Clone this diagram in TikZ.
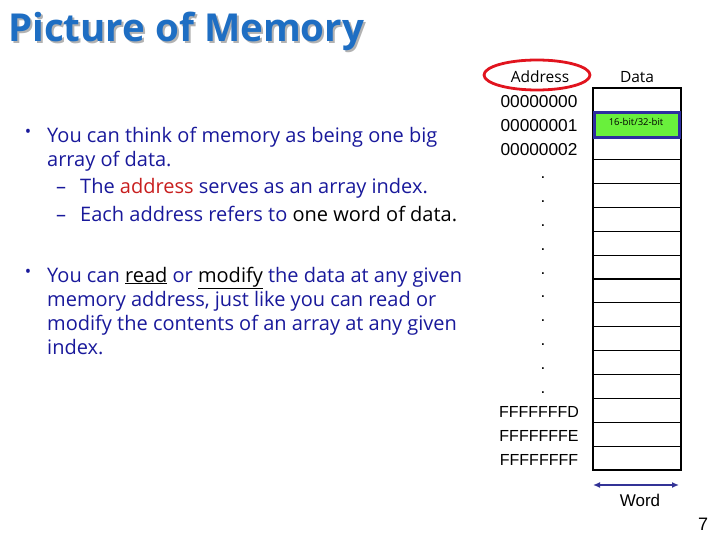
\documentclass[tikz,border=0pt]{standalone}
\usepackage{fontspec}
\setmainfont{Open Sans}
\newfontfamily\addrfont{Liberation Sans}
\usetikzlibrary{arrows.meta}
\definecolor{titleblue}{RGB}{30,110,195}
\definecolor{navy}{RGB}{25,25,155}
\definecolor{addrred}{RGB}{200,30,30}
\definecolor{ellred}{RGB}{225,20,30}
\definecolor{cellgreen}{RGB}{105,240,60}
\definecolor{cellblue}{RGB}{45,45,160}
\definecolor{arrowblue}{RGB}{50,50,150}
\begin{document}
\begin{tikzpicture}[x=1pt,y=-1pt,
  txt/.style={anchor=base west, inner sep=0pt, font=\fontsize{20}{24}\selectfont, text=navy},
  bulletmark/.style={anchor=center, inner sep=0pt, font=\fontsize{17}{19}\selectfont, text=navy},
  dashmark/.style={anchor=base west, inner sep=0pt, font=\fontsize{20}{24}\selectfont, text=navy},
  addr/.style={anchor=base, inner sep=0pt, font=\addrfont\fontsize{17.3}{20}\selectfont},
  addrF/.style={anchor=base, inner sep=0pt, font=\addrfont\fontsize{16}{19}\selectfont},
  dotmark/.style={anchor=base, inner sep=0pt, font=\addrfont\fontsize{17}{20}\selectfont},
  head/.style={anchor=base, inner sep=0pt, font=\fontsize{15.5}{18}\selectfont},
  cellline/.style={line width=1.2pt, black},
]
\useasboundingbox (0,0) rectangle (720,540);

% title with shadow (one node)
\node[anchor=base west, inner sep=0pt, font=\fontsize{38.5}{46}\selectfont\bfseries, text=titleblue] (title) at (8,42)
  {\rlap{\hspace{2pt}\raisebox{-2pt}{\textcolor{black!30}{Picture of Memory}}}Picture of Memory};

% bullet 1
\node[bulletmark] (b1) at (28,133) {•};
\node[txt] (l1) at (47,143) {You can think of memory as being one big};
\node[txt] (l2) at (47,167) {array of data.};
\node[dashmark] (d1) at (56,194) {–};
\node[txt] (l3) at (80,194) {The \textcolor{addrred}{address} serves as an array index.};
\node[dashmark] (d2) at (56,222) {–};
\node[txt] (l4) at (80,222) {Each address refers to \textcolor{black}{one word of data.}};

% bullet 2
\node[bulletmark] (b2) at (28,273) {•};
\node[txt] (m1) at (47,282) {You can \textcolor{black}{\underline{read}} or \textcolor{black}{\underline{modify}} the data at any given};
\node[txt] (m2) at (47,306) {memory address, just like you can read or};
\node[txt] (m3) at (47,330) {modify the contents of an array at any given};
\node[txt] (m4) at (47,354) {index.};

% headers
\node[head] (addrhead) at (540,83) {Address};
\node[head] (datahead) at (637,83) {Data};
\draw[ellred, line width=2.8pt] (537,75) ellipse [x radius=53, y radius=15];

% data column
\draw[line width=2pt] (593,88) rectangle (681,470);
\foreach \k in {1,...,15} {
  \draw[cellline] (593,{88+23.875*\k}) -- (681,{88+23.875*\k});
}
\draw[cellblue, line width=2.6pt, fill=cellgreen] (594.5,112.5) rectangle (679.5,137.5);
\node[anchor=base, inner sep=0pt, font=\fontsize{9.5}{11}\selectfont] (cell) at (636,126) {16-bit/32-bit};

% addresses
\node[addr] (a0) at (539,108) {00000000};
\node[addr] (a1) at (539,132) {00000001};
\node[addr] (a2) at (539,156) {00000002};
\foreach \k in {3,...,12} {
  \node[dotmark] (dot\k) at (543,{88+23.875*(\k+0.5)+7}) {.};
}
\node[addrF] (af1) at (539,417) {FFFFFFFD};
\node[addrF] (af2) at (539,441) {FFFFFFFE};
\node[addrF] (af3) at (539,465) {FFFFFFFF};

% word arrow
\coordinate (wl) at (593,485);
\coordinate (wr) at (679,485);
\draw[arrowblue, line width=1.8pt, {Latex[length=7pt,width=6pt]}-{Latex[length=7pt,width=6pt]}] (wl) -- (wr);
\node[anchor=base, inner sep=0pt, font=\addrfont\fontsize{17}{20}\selectfont] (word) at (640,506) {Word};

% page number
\node[anchor=base, inner sep=0pt, font=\addrfont\fontsize{18}{20}\selectfont] (pg) at (703,530) {7};
\end{tikzpicture}
\end{document}
